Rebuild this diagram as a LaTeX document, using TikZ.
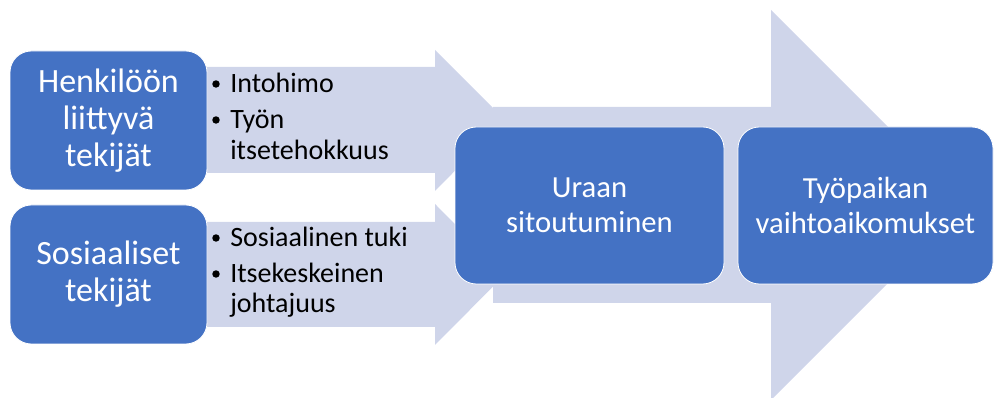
\documentclass[tikz,border=0pt]{standalone}
\usepackage{fontspec}
\setmainfont{Carlito}
\definecolor{boxblue}{HTML}{4472C4}
\definecolor{arrowgrey}{HTML}{CFD5EA}

\begin{document}
\begin{tikzpicture}[x=0.75pt, y=0.75pt,
    factor/.style={rectangle, rounded corners=16pt, fill=boxblue, draw=white, line width=0.6pt,
        text=white, align=center, font=\fontsize{23}{26}\selectfont},
    leftfactor/.style={factor, minimum width=147.75pt, minimum height=104.25pt,
        font=\fontsize{25.5}{27.75}\selectfont},
    outcome/.style={factor, minimum height=117.75pt},
    itemline/.style={inner sep=0pt, anchor=base west, text=black, font=\fontsize{21}{23.25}\selectfont},
    dot/.style={circle, fill=black, inner sep=0pt, minimum size=5.6pt}]
%%% frame %%%
\clip (0,0) rectangle (996,398);

%% big arrow behind the outcomes
\fill[arrowgrey] (493,291) -- (771,291) -- (771,388) -- (966,193) -- (771,-2) -- (771,95) -- (493,95) -- cycle;
%% the two small arrows
\fill[arrowgrey] (108,331) -- (435,331) -- (435,348) -- (505,278) -- (435,207) -- (435,225) -- (108,225) -- cycle;
\fill[arrowgrey] (108,176) -- (435,176) -- (435,194) -- (505,123.5) -- (435,53) -- (435,71) -- (108,71) -- cycle;

%% factors
\node[leftfactor] (henkilo) at (108.5,277.5) {Henkilöön\\ liittyvä\\ tekijät};
\node[leftfactor] (sosiaali) at (108.5,123.5) {Sosiaaliset\\ tekijät};

%% what goes with them
\node[dot] (dot1) at (216,314) {};
\node[itemline] (intohimo) at (230,305) {Intohimo};
\node[dot] (dot2) at (216,278) {};
\node[itemline] (tyon) at (230,269) {Työn};
\node[itemline] (itseteho) at (230,238) {itsetehokkuus};
%
\node[dot] (dot3) at (216,160) {};
\node[itemline] (tuki) at (230,151) {Sosiaalinen tuki};
\node[dot] (dot4) at (216,124) {};
\node[itemline] (itsekesk) at (230,115) {Itsekeskeinen};
\node[itemline] (johtajuus) at (230,85) {johtajuus};

%% outcomes
\node[outcome, minimum width=201.75pt] (ura) at (589.5,192.5) {Uraan\\ sitoutuminen};
\node[outcome, minimum width=191.25pt] (tyopaikka) at (865.5,192.5) {Työpaikan\\ vaihtoaikomukset};

\end{tikzpicture}
\end{document}
